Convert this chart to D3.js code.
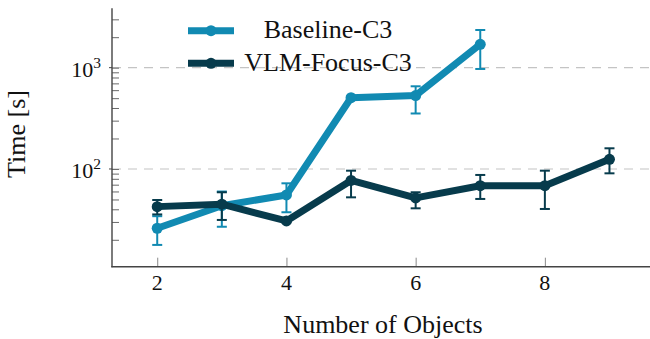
<!DOCTYPE html>
<html><head><meta charset="utf-8">
<script src="https://cdn.jsdelivr.net/npm/d3@7"></script>
<style>body{margin:0;background:#fff} svg{display:block}</style>
</head><body><svg id="c" width="650" height="339"></svg>
<script>
// ---- data ----
const baselineX    = [2, 3, 4, 5, 6, 7];
const baselineMean = [26, 43.4, 55.4, 505, 530, 1702];
const baselineLow  = [17.8, 26.9, 37.4, 495, 353, 971];
const baselineHigh = [34.2, 59.9, 72.2, 515, 655, 2355];

const vlmX    = [2, 3, 4, 5, 6, 7, 8, 9];
const vlmMean = [42.5, 44.9, 30.7, 77, 51.8, 68.4, 68.4, 124.7];
const vlmLow  = [35.6, 31.4, 29.8, 52.5, 40.9, 50.6, 40.3, 90.6];
const vlmHigh = [49.4, 58.9, 31.6, 96.2, 58.9, 87.3, 96.2, 160];

const xTicks = [2, 4, 6, 8];
const yMajor = [100, 1000];
const yMajorExp = ["2", "3"];
const yMinor = [20, 30, 40, 50, 60, 70, 80, 90, 200, 300, 400, 500, 600, 700, 800, 900, 2000, 3000];
const seriesNames = ["Baseline-C3", "VLM-Focus-C3"];
const colors = ["#118AB2", "#073B4C"];

// ---- layout ----
const svg = d3.select("#c");
const L = 112, R = 654.7, T = 8.3, B = 266.7;
const x = d3.scaleLinear().domain([1.3, 9.7]).range([L, R]);
const y = d3.scaleLog().domain([10.85, 3855]).range([B, T]);
const serif = "'Liberation Serif','Times New Roman',serif";

// grid
svg.append("g").selectAll("line").data(yMajor).join("line")
  .attr("x1", L).attr("x2", 650).attr("y1", d => y(d)).attr("y2", d => y(d))
  .attr("stroke", "#c4c4c4").attr("stroke-width", 1.2).attr("stroke-dasharray", "9,7");

// y ticks
const yMinorAxis = d3.axisLeft(y).tickValues(yMinor).tickSize(-7).tickFormat("");
const gyMin = svg.append("g").attr("transform", `translate(${L},0)`).call(yMinorAxis);
const yMajorAxis = d3.axisLeft(y).tickValues(yMajor).tickSize(-7).tickFormat("");
const gyMaj = svg.append("g").attr("transform", `translate(${L},0)`).call(yMajorAxis);
[gyMin, gyMaj].forEach(g => { g.select(".domain").remove(); g.selectAll("line").attr("stroke", "#6a6a6a").attr("stroke-width", 1); });
// major outward small
svg.append("g").selectAll("line").data(yMajor).join("line")
  .attr("x1", L - 3).attr("x2", L).attr("y1", d => y(d)).attr("y2", d => y(d))
  .attr("stroke", "#444").attr("stroke-width", 1);

// y tick labels
const yl = svg.append("g").selectAll("text").data(yMajor).join("text")
  .attr("x", 101).attr("y", d => y(d) + 9)
  .attr("text-anchor", "end").attr("font-family", serif).attr("font-size", 22).attr("fill", "#111");
yl.append("tspan").text("10");
yl.append("tspan").attr("dy", -9).attr("font-size", 15.5).text((d, i) => yMajorExp[i]);

// x ticks
const xAxis = d3.axisBottom(x).tickValues(xTicks).tickSize(-9).tickFormat("");
const gx = svg.append("g").attr("transform", `translate(0,${B})`).call(xAxis);
gx.select(".domain").remove();
gx.selectAll("line").attr("stroke", "#8a8a8a").attr("stroke-width", 1);
svg.append("g").selectAll("text").data(xTicks).join("text")
  .attr("x", d => x(d)).attr("y", 290)
  .attr("text-anchor", "middle").attr("font-family", serif).attr("font-size", 22).attr("fill", "#111")
  .text(d => d);

// spines
svg.append("line").attr("x1", L).attr("x2", L).attr("y1", T).attr("y2", B + 0.6).attr("stroke", "#444").attr("stroke-width", 1.4);
svg.append("line").attr("x1", L - 0.7).attr("x2", 650).attr("y1", B).attr("y2", B).attr("stroke", "#444").attr("stroke-width", 1.4);

// axis labels
svg.append("text").attr("x", 383).attr("y", 333).attr("text-anchor", "middle")
  .attr("font-family", serif).attr("font-size", 26).attr("fill", "#111").text("Number of Objects");
svg.append("text").attr("transform", "translate(25,134) rotate(-90)").attr("text-anchor", "middle")
  .attr("font-family", serif).attr("font-size", 26).attr("fill", "#111").text("Time [s]");

// series
const series = [
  {xs: baselineX, m: baselineMean, lo: baselineLow, hi: baselineHigh},
  {xs: vlmX, m: vlmMean, lo: vlmLow, hi: vlmHigh}
];
const line = d3.line().x(d => x(d[0])).y(d => y(d[1]));
series.forEach((s, k) => {
  const pts = s.xs.map((v, i) => [v, s.m[i], s.lo[i], s.hi[i]]);
  const g = svg.append("g");
  g.append("path").datum(pts).attr("d", line).attr("fill", "none")
    .attr("stroke", colors[k]).attr("stroke-width", 7).attr("stroke-linejoin", "round");
  const eb = g.append("g").attr("stroke", colors[k]).attr("stroke-width", 2);
  eb.selectAll(".v").data(pts).join("line").attr("x1", d => x(d[0])).attr("x2", d => x(d[0]))
    .attr("y1", d => y(d[2])).attr("y2", d => y(d[3]));
  eb.selectAll(".cl").data(pts).join("line").attr("x1", d => x(d[0]) - 5).attr("x2", d => x(d[0]) + 5)
    .attr("y1", d => y(d[2])).attr("y2", d => y(d[2]));
  eb.selectAll(".ch").data(pts).join("line").attr("x1", d => x(d[0]) - 5).attr("x2", d => x(d[0]) + 5)
    .attr("y1", d => y(d[3])).attr("y2", d => y(d[3]));
  g.selectAll("circle").data(pts).join("circle").attr("cx", d => x(d[0])).attr("cy", d => y(d[1]))
    .attr("r", 5.5).attr("fill", colors[k]);
});

// legend
const legY = [30.7, 63.3];
const lg = svg.append("g");
seriesNames.forEach((n, k) => {
  lg.append("line").attr("x1", 188).attr("x2", 234).attr("y1", legY[k]).attr("y2", legY[k])
    .attr("stroke", colors[k]).attr("stroke-width", 7);
  lg.append("circle").attr("cx", 211).attr("cy", legY[k]).attr("r", 5.5).attr("fill", colors[k]);
  lg.append("text").attr("x", 328).attr("y", legY[k] + 7.3).attr("text-anchor", "middle")
    .attr("font-family", serif).attr("font-size", 26).attr("fill", "#111").text(n);
});
</script></body></html>
